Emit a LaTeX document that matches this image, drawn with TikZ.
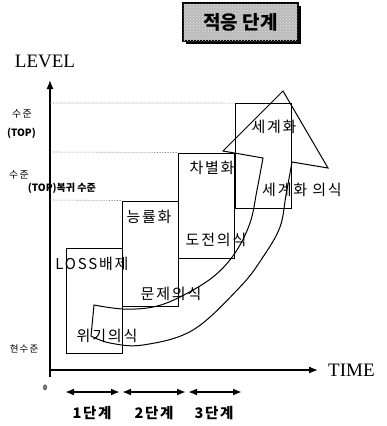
\documentclass[tikz,border=0pt]{standalone}
\usepackage{fontspec}
\setmainfont{Liberation Serif}
\newfontfamily\kr{Noto Sans CJK KR}
\newfontfamily\krsp[LetterSpace=12]{Noto Sans CJK KR}
\usetikzlibrary{arrows.meta,patterns}
\begin{document}
\begin{tikzpicture}[x=1pt,y=-1pt,
  stagebox/.style={draw, line width=0.9pt, minimum width=56pt, minimum height=105pt, inner sep=0pt},
  lbl/.style={font=\krsp\fontsize{15}{15}\selectfont, inner sep=0pt},
  side/.style={font=\krsp\fontsize{10}{10}\selectfont, inner sep=0pt, anchor=east},
  sidebold/.style={font=\kr\bfseries\fontsize{10}{10}\selectfont, inner sep=0pt, anchor=east},
  axislbl/.style={font=\fontsize{19}{19}\selectfont, inner sep=0pt},
  guide/.style={densely dotted, gray, line width=0.6pt},
  dblarrow/.style={{Latex[length=9pt,width=7pt]}-{Latex[length=9pt,width=7pt]}, line width=1.8pt},
  stagelbl/.style={font=\krsp\bfseries\fontsize{14.5}{15}\selectfont, inner sep=0pt}]
\useasboundingbox (0,0) rectangle (386,426);
\clip (0,0) rectangle (386,426);

% title
\fill[black] (186,6) rectangle (301,44);
\node[draw, line width=1.2pt, fill=gray!55, postaction={pattern=crosshatch dots, pattern color=white!80!gray},
      minimum width=115pt, minimum height=38pt, inner sep=0pt] (title) at (240.5,22)
      {\kr\bfseries\fontsize{19}{19}\selectfont 적응 단계};

% axes
\coordinate (origin) at (50,370);
\coordinate (ybot) at (50,377);
\coordinate (ytop) at (50,80);
\coordinate (xend) at (318,370);
\draw[line width=1.3pt, -{Latex[length=9pt,width=7pt]}] (ybot) -- (ytop);
\draw[line width=1.3pt, -{Latex[length=9pt,width=7pt]}] (origin) -- (xend);
\node[axislbl] (level) at (45,61) {LEVEL};
\node[axislbl, anchor=west] (time) at (328,370) {TIME};
\node[font=\bfseries\fontsize{8}{8}\selectfont, inner sep=0pt] (zero) at (45,388) {0};

% stage boxes
\node[stagebox] (b1) at (94.5,301) {};
\node[stagebox] (b2) at (150.5,253.5) {};
\node[stagebox] (b3) at (206.5,205.5) {};
\node[stagebox] (b4) at (263,156) {};

% guide lines
\coordinate (g1) at (50,103);
\coordinate (g2) at (50,152);
\coordinate (g3) at (50,200);
\draw[guide] (g1) -- (b4.north west);
\draw[guide] (g2) -- (b3.north west);
\draw[guide] (g3) -- (b2.north west);

% side labels
\node[side] (s1) at (32,114) {수준};
\node[sidebold] (s2) at (36,133) {(TOP)};
\node[side] (s3) at (29,175) {수준};
\node[sidebold] (s4) at (96,188) {(TOP)복귀 수준};
\node[font=\krsp\fontsize{9.5}{10}\selectfont, inner sep=0pt] (now) at (24,349) {현수준};

% big curved arrow
\draw[line width=1pt, line join=miter]
  (94,305) -- (91,336)
  -- plot[smooth, tension=0.6] coordinates {(91,336) (110,343) (143,345) (193,330) (240,287) (263,257) (280,227) (286,195) (292,162)}
  -- (328,168) -- (283,91) -- (223,151) -- (263,158)
  -- plot[smooth, tension=0.6] coordinates {(263,158) (257,190) (250,223) (235,253) (213,277) (180,297) (153,307) (123,309) (94,305)}
  -- cycle;

% labels
\node[lbl] (l1) at (92,264) {LOSS배제};
\node[lbl] (l2) at (149,217) {능률화};
\node[lbl] (l3) at (212,168) {차별화};
\node[lbl] (l4) at (274,127) {세계화};
\node[lbl] (m1) at (107,336) {위기의식};
\node[lbl] (m2) at (171,294) {문제의식};
\node[lbl] (m3) at (216,240) {도전의식};
\node[lbl] (m4) at (302,190) {세계화 의식};

% stage arrows
\coordinate (t0) at (65,392);
\coordinate (t1a) at (120,392);
\coordinate (t1b) at (122,392);
\coordinate (t2a) at (186,392);
\coordinate (t2b) at (188,392);
\coordinate (t3) at (242,392);
\draw[dblarrow] (t0) -- (t1a);
\draw[dblarrow] (t1b) -- (t2a);
\draw[dblarrow] (t2b) -- (t3);
\node[stagelbl] (st1) at (92,413) {1단계};
\node[stagelbl] (st2) at (154,413) {2단계};
\node[stagelbl] (st3) at (214,413) {3단계};
\end{tikzpicture}
\end{document}
